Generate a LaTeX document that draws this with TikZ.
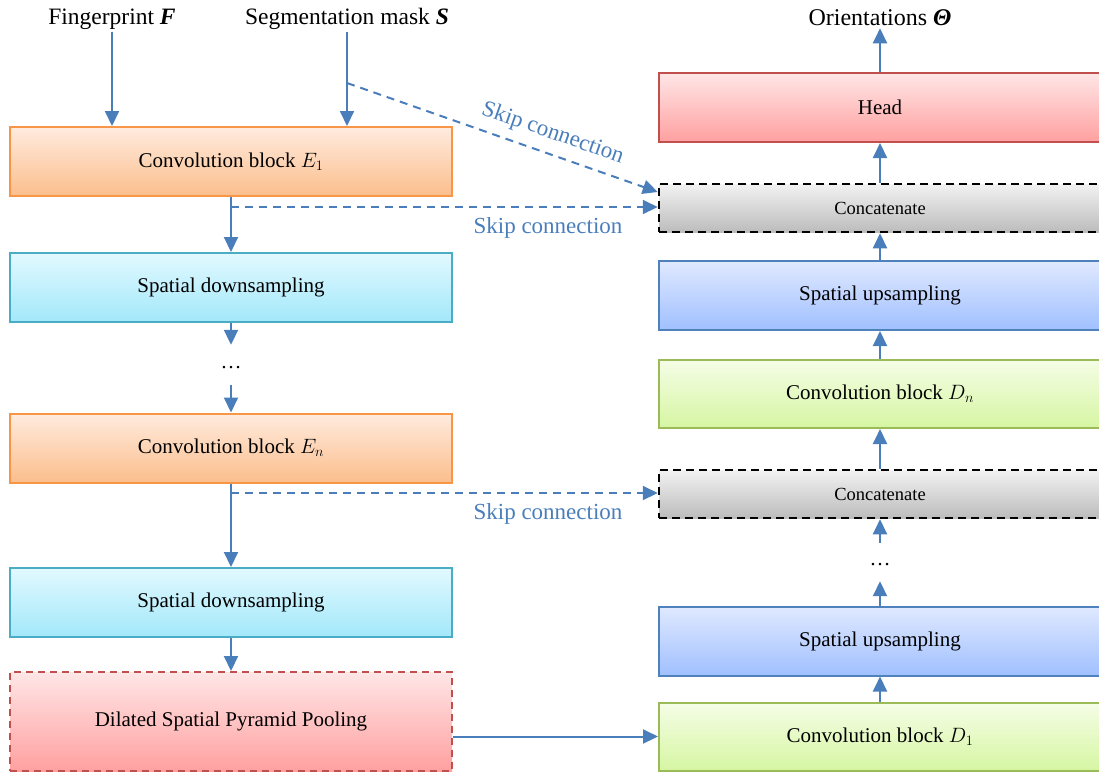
\documentclass[tikz,border=0pt]{standalone}
\usepackage{fontspec}
\setmainfont{Liberation Serif}
\usetikzlibrary{arrows.meta,calc}

\definecolor{flow}{RGB}{74,126,187}
\definecolor{orangeTop}{RGB}{255,235,222}
\definecolor{orangeBot}{RGB}{251,190,140}
\definecolor{orangeLine}{RGB}{247,150,70}
\definecolor{cyanTop}{RGB}{226,249,255}
\definecolor{cyanBot}{RGB}{162,232,250}
\definecolor{cyanLine}{RGB}{75,172,198}
\definecolor{pinkTop}{RGB}{255,230,230}
\definecolor{pinkBot}{RGB}{255,160,160}
\definecolor{redLine}{RGB}{192,80,77}
\definecolor{grayTop}{RGB}{242,242,242}
\definecolor{grayBot}{RGB}{188,188,188}
\definecolor{blueTop}{RGB}{224,233,255}
\definecolor{blueBot}{RGB}{160,192,255}
\definecolor{blueLine}{RGB}{79,129,189}
\definecolor{greenTop}{RGB}{245,253,230}
\definecolor{greenBot}{RGB}{214,246,162}
\definecolor{greenLine}{RGB}{155,187,89}

\tikzset{
  block/.style={draw, line width=2pt, minimum width=442pt, inner sep=0pt,
    font=\fontsize{21}{25}\selectfont},
  encblock/.style={block, draw=orangeLine, top color=orangeTop, bottom color=orangeBot, minimum height=69pt},
  downblock/.style={block, draw=cyanLine, top color=cyanTop, bottom color=cyanBot, minimum height=69pt},
  poolblock/.style={block, draw=redLine, dash pattern=on 7pt off 5pt, top color=pinkTop, bottom color=pinkBot, minimum height=99pt},
  headblock/.style={block, draw=redLine, top color=pinkTop, bottom color=pinkBot, minimum height=69pt},
  catblock/.style={block, draw=black, line width=2.5pt, dash pattern=on 8pt off 5pt, top color=grayTop, bottom color=grayBot, minimum height=48pt,
    font=\fontsize{18.5}{22}\selectfont},
  upblock/.style={block, draw=blueLine, top color=blueTop, bottom color=blueBot, minimum height=69pt},
  decblock/.style={block, draw=greenLine, top color=greenTop, bottom color=greenBot, minimum height=68pt},
  iolabel/.style={inner sep=2pt, font=\fontsize{23.5}{28}\selectfont},
  dotsnode/.style={inner sep=0pt, minimum height=40pt, font=\fontsize{21}{25}\selectfont},
  flowarrow/.style={draw=flow, line width=2pt, -{Triangle[length=15pt,width=14pt]}},
  skiparrow/.style={flowarrow, dash pattern=on 8pt off 6pt},
  skiplabel/.style={text=flow, inner sep=2pt, font=\fontsize{23}{27}\selectfont},
}

\begin{document}
\begin{tikzpicture}[x=1pt,y=-1pt]
\useasboundingbox (0,0) rectangle (1099,772);

% encoder column
\node[iolabel] (fin) at (112,19) {Fingerprint \textbf{\textit{F}}};
\node[iolabel] (seg) at (347,19) {Segmentation mask \textbf{\textit{S}}};
\node[encblock]  (e1)   at (231,161.5) {Convolution block $E_1$};
\node[downblock] (d1s)  at (231,287.5) {Spatial downsampling};
\node[dotsnode]  (ldot) at (231,365)   {\raisebox{-7pt}{\dots}};
\node[encblock]  (en)   at (231,448)   {Convolution block $E_n$};
\node[downblock] (d2s)  at (231,602.5) {Spatial downsampling};
\node[poolblock] (dspp) at (231,721.5) {Dilated Spatial Pyramid Pooling};

% decoder column
\node[iolabel, font=\fontsize{24}{28}\selectfont] (out) at (880,18) {Orientations \textbf{\textit{Θ}}};
\node[headblock] (head) at (880,107.5) {Head};
\node[catblock]  (cat1) at (880,208)   {Concatenate};
\node[upblock]   (up1)  at (880,295.5) {Spatial upsampling};
\node[decblock]  (dn)   at (880,394)   {Convolution block $D_n$};
\node[catblock]  (cat2) at (880,494)   {Concatenate};
\node[dotsnode, minimum height=38pt] (rdot) at (880,562) {\raisebox{-7pt}{\dots}};
\node[upblock]   (up2)  at (880,641)   {Spatial upsampling};
\node[decblock]  (d1)   at (880,736.5) {Convolution block $D_1$};

% inputs
\draw[flowarrow] (fin.south) -- (fin.south |- e1.north);
\draw[flowarrow] (seg.south) -- (seg.south |- e1.north);
\coordinate (segtap) at (seg.south |- 0,83);

% encoder flow
\draw[flowarrow] (e1.south) -- (d1s.north);
\draw[flowarrow] (d1s.south) -- (ldot.north);
\draw[flowarrow] (ldot.south) -- (en.north);
\draw[flowarrow] (en.south) -- (d2s.north);
\draw[flowarrow] (d2s.south) -- (dspp.north);
\draw[flowarrow] (dspp.east |- d1.west) -- (d1.west);

% decoder flow
\draw[flowarrow] (d1.north) -- (up2.south);
\draw[flowarrow] (up2.north) -- (rdot.south);
\draw[flowarrow] (rdot.north) -- (cat2.south);
\draw[flowarrow] (cat2.north) -- (dn.south);
\draw[flowarrow] (dn.north) -- (up1.south);
\draw[flowarrow] (up1.north) -- (cat1.south);
\draw[flowarrow] (cat1.north) -- (head.south);
\draw[flowarrow] (head.north) -- (out.south);

% skip connections
\coordinate (tap1) at (e1.south |- 0,207);
\coordinate (tap2) at (en.south |- 0,493);
\draw[skiparrow] (segtap) -- node[skiplabel, sloped, above=7pt, pos=0.64] {Skip connection} ($(cat1.west)+(0,-16)$);
\draw[skiparrow] (tap1) -- (tap1 -| cat1.west);
\draw[skiparrow] (tap2) -- (tap2 -| cat2.west);
\node[skiplabel] (sk1) at (548,228) {Skip connection};
\node[skiplabel] (sk2) at (548,514) {Skip connection};
\end{tikzpicture}
\end{document}
